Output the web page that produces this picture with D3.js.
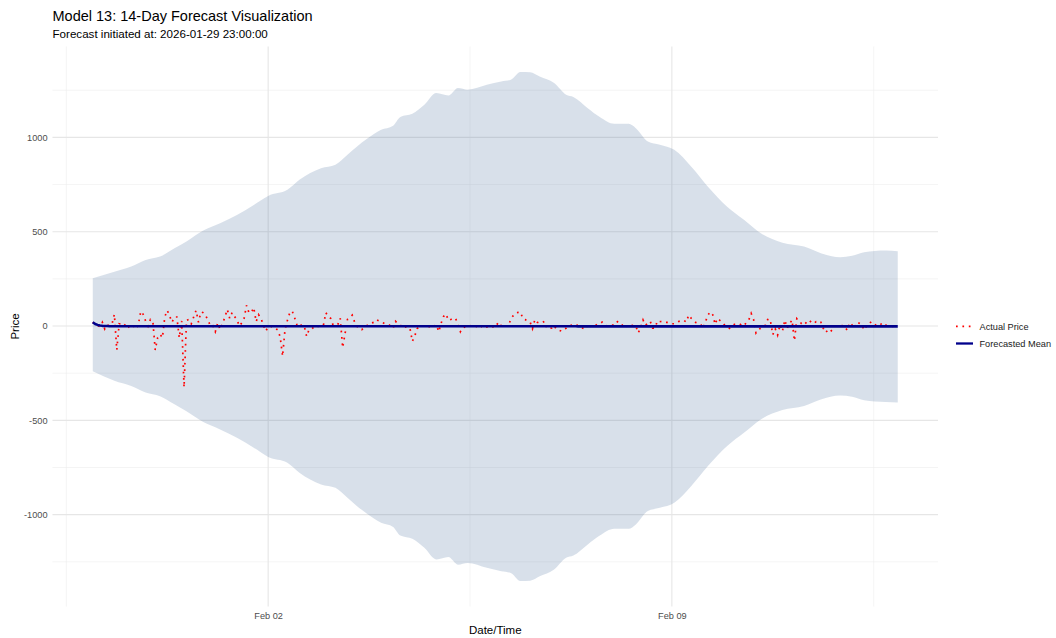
<!DOCTYPE html>
<html>
<head>
<meta charset="utf-8">
<script src="https://cdn.jsdelivr.net/npm/d3@7"></script>
<style>
  html, body { margin: 0; padding: 0; background: #fff; }
  svg { display: block; font-family: "Liberation Sans", Arial, Helvetica, sans-serif; }
</style>
</head>
<body>
<svg id="chart" width="1056" height="638"></svg>
<script>
// ---- Data -------------------------------------------------------------
const titleText = "Model 13: 14-Day Forecast Visualization";
const subtitleText = "Forecast initiated at: 2026-01-29 23:00:00";
const forecastStart = "2026-01-29T23:00:00Z";   // hour 0 of the series

// Observed hourly price (hour 0 .. 335)
const actualPrice = [
  20, 8, 2, -3, 20, -16, 5, 2, 10, 62, -127, 12, 10, 0, 15, -5, 5, 0, -16, 10, 78, 62, 27, 0,
  35, 27, -127, -62, -44, -62, 50, 83, 53, 20, 48, 48, -62, 27, -325, 30, 35, 12, 48, 83, 20, 74, 71, 55,
  30, 0, 2, -30, 16, -18, 10, 48, 88, 40, 71, 50, 35, 0, 16, 41, 110, 71, 71, 98, 23, 60, 41, 5,
  -27, -5, 0, -10, -12, -21, -58, -160, -20, 30, 70, 80, 44, 5, 16, 0, 0, -55, -20, -18, -5, -9, 0, 5,
  5, 71, 50, 41, 5, 8, 9, 41, -115, -40, 35, 45, 58, 20, -2, -5, -19, -5, 2, 5, 16, 20, 34, 28,
  21, 16, 10, 9, 0, -12, 25, 12, 5, -12, -5, -5, -12, -81, -53, -14, 0, 0, 2, 0, -3, -12, 0, 5,
  -30, 16, 51, 64, 30, 35, 41, 41, 5, -30, -9, -5, -9, 0, 5, 0, -3, -12, 0, -9, -5, -5, 0, -9,
  5, 21, 0, -5, 0, 0, 39, 55, 69, 72, 74, 39, 34, 25, 21, -14, 35, 20, 15, 18, 25, -12, -10, -11,
  3, -18, -22, -27, -15, -12, 0, 4, 5, 9, 0, -9, -12, -18, 12, 0, -5, 0, 10, 12, 21, 5, 0, 0,
  3, 8, 25, 18, 14, -11, 0, 5, 7, 0, 0, -37, -9, 32, 4, 15, 25, -11, -11, 28, 25, 23, 20, 19,
  15, 12, 12, 20, 25, 28, 30, 21, 58, 42, 30, 18, 12, 9, -12, 23, 58, 75, 60, 9, 41, 30, 21, 4,
  0, -12, 0, 9, 10, 12, 5, 0, 20, 32, 67, 35, -37, -20, -11, 0, 4, 39, 28, -46, -14, -48, 7, -28,
  32, -11, 12, 32, -78, 39, 26, 12, 5, 20, 32, 20, 12, 23, 15, 20, -12, -35, -20, -30, -16, 0, 4, 0,
  2, -5, -23, 18, 5, -11, 21, 15, 9, -21, 0, 12, 23, 10, 4, 0, 10, 18, 5, 2, 0, -2, 0, 0
];

// Forecasted mean, hourly (hour 0 .. 335)
const forecastMean = [
  20, 11, 6, 3, 1, 0, 0, -1, -1, -1, -1, -1, -1, -1, -1, -1, -1, -1, -1, -1, -1, -1, -1, -1,
  -1, -1, -1, -1, -1, -1, -1, -1, -1, -1, -1, -1, -1, -1, -1, -1, -1, -1, -1, -1, -1, -1, -1, -1,
  -1, -1, -1, -1, -1, -1, -1, -1, -1, -1, -1, -1, -1, -1, -1, -1, -1, -1, -1, -1, -1, -1, -1, -1,
  -1, -1, -1, -1, -1, -1, -1, -1, -1, -1, -1, -1, -1, -1, -1, -1, -1, -1, -1, -1, -1, -1, -1, -1,
  -1, -1, -1, -1, -1, -1, -1, -1, -1, -1, -1, -1, -1, -1, -1, -1, -1, -1, -1, -1, -1, -1, -1, -1,
  -1, -1, -1, -1, -1, -1, -1, -1, -1, -1, -1, -1, -1, -1, -1, -1, -1, -1, -1, -1, -1, -1, -1, -1,
  -1, -1, -1, -1, -1, -1, -1, -1, -1, -1, -1, -1, -1, -1, -1, -1, -1, -1, -1, -1, -1, -1, -1, -1,
  -1, -1, -1, -1, -1, -1, -1, -1, -1, -1, -1, -1, -1, -1, -1, -1, -1, -1, -1, -1, -1, -1, -1, -1,
  -1, -1, -1, -1, -1, -1, -1, -1, -1, -1, -2, -2, -2, -2, -2, -2, -2, -2, -2, -2, -2, -2, -2, -2,
  -2, -2, -2, -2, -2, -2, -2, -2, -2, -2, -2, -2, -2, -2, -2, -2, -2, -2, -2, -2, -2, -2, -2, -2,
  -2, -2, -2, -2, -2, -2, -2, -2, -2, -2, -2, -2, -2, -2, -2, -2, -2, -2, -2, -2, -2, -2, -2, -2,
  -2, -2, -2, -2, -2, -2, -2, -2, -2, -2, -2, -2, -2, -2, -2, -2, -2, -2, -2, -2, -2, -2, -2, -2,
  -2, -2, -2, -2, -2, -2, -2, -2, -2, -2, -2, -2, -2, -2, -2, -2, -2, -2, -2, -2, -2, -2, -2, -2,
  -2, -2, -2, -2, -2, -2, -2, -2, -2, -2, -2, -2, -2, -2, -2, -2, -2, -2, -2, -2, -2, -2, -2, -2
];

// Prediction interval bounds, sampled at these forecast hours
const bandHours = [0, 9, 16, 22, 28, 34, 39, 46, 53, 60, 67, 73, 81, 86, 95, 101, 106, 110, 114, 120,
  125, 128, 133, 138, 143, 148, 152, 156, 164, 170, 174, 178, 182, 186, 192, 197, 200, 206, 211, 217,
  223, 226, 231, 236, 242, 249, 256, 264, 271, 278, 287, 296, 303, 311, 316, 321, 330, 335];
const bandUpper = [253, 288, 315, 350, 368, 412, 448, 506, 545, 589, 642, 690, 722, 775, 837, 855, 908, 952, 991, 1040,
  1062, 1108, 1125, 1173, 1235, 1222, 1262, 1253, 1279, 1297, 1306, 1347, 1345, 1323, 1288, 1226, 1214, 1155, 1108, 1072,
  1072, 1049, 978, 961, 934, 846, 739, 633, 563, 492, 442, 421, 386, 365, 372, 391, 400, 396];
const bandLower = [-240, -290, -318, -352, -372, -415, -452, -509, -548, -592, -645, -694, -725, -778, -840, -858, -911, -955, -994, -1043,
  -1065, -1111, -1128, -1176, -1238, -1225, -1265, -1256, -1282, -1300, -1309, -1352, -1350, -1327, -1291, -1229, -1217, -1158, -1111, -1075,
  -1075, -1052, -981, -964, -937, -849, -742, -636, -566, -495, -445, -424, -389, -368, -375, -394, -403, -405];

// Axis breaks
const yMajorTicks = [-1000, -500, 0, 500, 1000];
const yMinorTicks = [-1250, -750, -250, 250, 750, 1250];
const xMajorTicks = ["2026-02-02T00:00:00Z", "2026-02-09T00:00:00Z"];
const xMinorTicks = ["2026-01-29T12:00:00Z", "2026-02-05T12:00:00Z", "2026-02-12T12:00:00Z"];
const legendLabels = ["Actual Price", "Forecasted Mean"];

// ---- Layout -----------------------------------------------------------
const panel = { left: 52.5, right: 938, top: 46.5, bottom: 606.5 };
const svg = d3.select("#chart");

const t0 = new Date(forecastStart);
const hourToDate = h => d3.utcHour.offset(t0, h);

const hours = d3.range(actualPrice.length);
const series = hours.map(h => ({ t: hourToDate(h), actual: actualPrice[h], mean: forecastMean[h] }));
const band = bandHours.map((h, i) => ({ t: hourToDate(h), lo: bandLower[i], hi: bandUpper[i] }));

// Continuous scales with 5% padding around the data range
const tExtent = d3.extent(series, d => d.t);
const tPad = (tExtent[1] - tExtent[0]) * 0.05;
const x = d3.scaleUtc()
  .domain([new Date(+tExtent[0] - tPad), new Date(+tExtent[1] + tPad)])
  .range([panel.left, panel.right]);

const yMin = Math.min(d3.min(bandLower), d3.min(actualPrice));
const yMax = Math.max(d3.max(bandUpper), d3.max(actualPrice));
const yPad = (yMax - yMin) * 0.05;
const y = d3.scaleLinear()
  .domain([yMin - yPad, yMax + yPad])
  .range([panel.bottom, panel.top]);

// ---- Grid -------------------------------------------------------------
const grid = svg.append("g").attr("class", "grid");
grid.selectAll("line.ymin").data(yMinorTicks).join("line")
  .attr("x1", panel.left).attr("x2", panel.right)
  .attr("y1", d => y(d)).attr("y2", d => y(d))
  .attr("stroke", "#ededed").attr("stroke-width", 0.6);
grid.selectAll("line.xmin").data(xMinorTicks.map(s => new Date(s))).join("line")
  .attr("y1", panel.top).attr("y2", panel.bottom)
  .attr("x1", d => x(d)).attr("x2", d => x(d))
  .attr("stroke", "#ededed").attr("stroke-width", 0.6);
grid.selectAll("line.ymaj").data(yMajorTicks).join("line")
  .attr("x1", panel.left).attr("x2", panel.right)
  .attr("y1", d => y(d)).attr("y2", d => y(d))
  .attr("stroke", "#e6e6e6").attr("stroke-width", 1.1);
grid.selectAll("line.xmaj").data(xMajorTicks.map(s => new Date(s))).join("line")
  .attr("y1", panel.top).attr("y2", panel.bottom)
  .attr("x1", d => x(d)).attr("x2", d => x(d))
  .attr("stroke", "#e6e6e6").attr("stroke-width", 1.1);

// ---- Prediction interval ribbon ---------------------------------------
const area = d3.area()
  .x(d => x(d.t))
  .y0(d => y(d.lo))
  .y1(d => y(d.hi))
  .curve(d3.curveMonotoneX);
svg.append("path")
  .datum(band)
  .attr("d", area)
  .attr("fill", "rgb(60,100,150)")
  .attr("fill-opacity", 0.2);

// ---- Actual price (dotted) --------------------------------------------
const lineActual = d3.line().x(d => x(d.t)).y(d => y(d.actual));
svg.append("path")
  .datum(series)
  .attr("d", lineActual)
  .attr("fill", "none")
  .attr("stroke", "#ff0000")
  .attr("stroke-width", 1.7)
  .attr("stroke-dasharray", "1.7,4.7");

// ---- Forecasted mean ---------------------------------------------------
const lineMean = d3.line().x(d => x(d.t)).y(d => y(d.mean));
svg.append("path")
  .datum(series)
  .attr("d", lineMean)
  .attr("fill", "none")
  .attr("stroke", "#00008b")
  .attr("stroke-width", 2.6)
  .attr("stroke-linejoin", "round");

// ---- Axes --------------------------------------------------------------
const yAxis = d3.axisLeft(y).tickValues(yMajorTicks).tickSize(0).tickPadding(5)
  .tickFormat(d => String(d));
const gy = svg.append("g").attr("transform", `translate(${panel.left},0)`).call(yAxis);
gy.select(".domain").remove();
gy.selectAll("text").attr("fill", "#4d4d4d").attr("font-size", "9.2px")
  .attr("font-family", "'Liberation Sans', Arial, sans-serif");

const xAxis = d3.axisBottom(x).tickValues(xMajorTicks.map(s => new Date(s))).tickSize(0).tickPadding(6)
  .tickFormat(d3.utcFormat("%b %d"));
const gx = svg.append("g").attr("transform", `translate(0,${panel.bottom})`).call(xAxis);
gx.select(".domain").remove();
gx.selectAll("text").attr("fill", "#4d4d4d").attr("font-size", "9.2px")
  .attr("font-family", "'Liberation Sans', Arial, sans-serif");

// Axis titles
svg.append("text")
  .attr("x", (panel.left + panel.right) / 2).attr("y", 633.5)
  .attr("text-anchor", "middle").attr("font-size", "11.5px").attr("fill", "#000")
  .text("Date/Time");
svg.append("text")
  .attr("transform", `translate(18.5,${(panel.top + panel.bottom) / 2}) rotate(-90)`)
  .attr("text-anchor", "middle").attr("font-size", "11.5px").attr("fill", "#000")
  .text("Price");

// Titles
svg.append("text").attr("x", 52.5).attr("y", 21)
  .attr("font-size", "14.5px").attr("fill", "#000").text(titleText);
svg.append("text").attr("x", 52.5).attr("y", 38)
  .attr("font-size", "11.6px").attr("fill", "#000").text(subtitleText);

// ---- Legend ------------------------------------------------------------
const legend = svg.append("g").attr("transform", "translate(956,0)");
const legendY = [326.3, 343.5];
legend.append("line")
  .attr("x1", 0).attr("x2", 17).attr("y1", legendY[0]).attr("y2", legendY[0])
  .attr("stroke", "#ff0000").attr("stroke-width", 1.7).attr("stroke-dasharray", "1.7,4.7");
legend.append("line")
  .attr("x1", 0).attr("x2", 17).attr("y1", legendY[1]).attr("y2", legendY[1])
  .attr("stroke", "#00008b").attr("stroke-width", 2.3);
legend.selectAll("text.lab").data(legendLabels).join("text")
  .attr("x", 23.5).attr("y", (d, i) => legendY[i] + 3.3)
  .attr("font-size", "9.2px").attr("fill", "#1a1a1a")
  .text(d => d);
</script>
</body>
</html>
